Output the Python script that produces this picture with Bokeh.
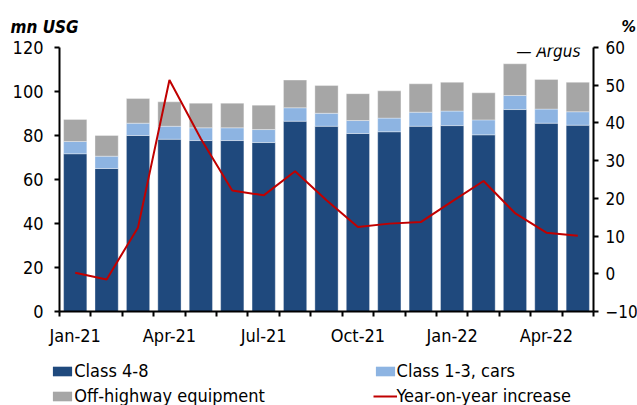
from bokeh.plotting import figure
from bokeh.models import (ColumnDataSource, Range1d, LinearAxis, FixedTicker,
                          Legend, LegendItem, Label)
from bokeh.embed import file_html
from bokeh.resources import INLINE

months = ["Jan-21", "Feb-21", "Mar-21", "Apr-21", "May-21", "Jun-21", "Jul-21",
          "Aug-21", "Sep-21", "Oct-21", "Nov-21", "Dec-21", "Jan-22", "Feb-22",
          "Mar-22", "Apr-22", "May-22"]
class48 = [71.7, 65.0, 80.0, 78.3, 77.7, 77.7, 76.8, 86.5, 84.2, 80.9, 81.7,
           84.2, 84.5, 80.3, 91.8, 85.6, 84.7]
class13 = [5.6, 5.6, 5.6, 5.9, 5.8, 5.8, 5.9, 6.1, 5.9, 5.9, 6.2, 6.4, 6.6,
           6.8, 6.4, 6.4, 6.1]
offhwy = [10.0, 9.4, 11.2, 11.1, 11.2, 11.2, 11.1, 12.6, 12.6, 12.2, 12.4,
          12.9, 13.1, 12.3, 14.4, 13.5, 13.4]
yoy = [0.3, -1.5, 12.3, 51.4, 35.8, 22.1, 20.8, 27.2, 19.5, 12.4, 13.3, 13.7,
       19.2, 24.6, 16.1, 10.9, 10.1]
label_idx = [0, 3, 6, 9, 12, 15]
left_ticks = [0, 20, 40, 60, 80, 100, 120]
right_ticks = [-10, 0, 10, 20, 30, 40, 50, 60]

FONT = "DejaVu Sans Condensed"
DARK = "#1F497D"
LIGHT = "#8DB4E2"
GRAY = "#A6A6A6"
RED = "#C00000"
W = 637

x = list(range(len(months)))
src = ColumnDataSource(dict(x=x, class48=class48, class13=class13,
                            offhwy=offhwy, yoy=yoy))

def bare_fig(h):
    f = figure(width=W, height=h, output_backend="svg", toolbar_location=None,
               title=None, x_range=Range1d(0, W), y_range=Range1d(0, h),
               min_border=0, min_border_left=0, min_border_right=0,
               min_border_top=0, min_border_bottom=0,
               x_axis_location=None, y_axis_location=None)
    f.outline_line_color = None
    f.xgrid.visible = False
    f.ygrid.visible = False
    return f

# ---- top strip: unit labels
top = bare_fig(36)
top.add_layout(Label(x=10, y=10, text="mn USG", text_font=FONT,
                     text_font_size="17px", text_font_style="bold italic",
                     text_color="black", text_baseline="alphabetic"))
top.add_layout(Label(x=621, y=10, text="%", text_font=FONT,
                     text_font_size="16px", text_font_style="bold italic",
                     text_color="black", text_baseline="alphabetic"))

# ---- main chart
p = figure(frame_width=534, frame_height=264, output_backend="svg",
           toolbar_location=None, title=None,
           x_range=Range1d(-0.5, len(months) - 0.5), y_range=Range1d(0, 120),
           min_border_left=59, min_border_right=44, min_border_top=11,
           min_border_bottom=38, x_axis_location=None, y_axis_location=None)
p.extra_y_ranges = {"pct": Range1d(-10, 60)}
p.outline_line_color = None
p.xgrid.visible = False
p.ygrid.visible = False

bars = p.vbar_stack(["class48", "class13", "offhwy"], x="x", width=0.74,
                    source=src, fill_color=[DARK, LIGHT, GRAY],
                    line_color="white", line_width=0.7, line_alpha=0.5)
ln = p.line("x", "yoy", source=src, y_range_name="pct", color=RED,
            line_width=2)

def style_axis(ax, size="18px"):
    ax.axis_line_color = "black"
    ax.axis_line_width = 2
    ax.major_tick_line_color = "black"
    ax.major_tick_line_width = 2
    ax.minor_tick_line_color = "black"
    ax.minor_tick_line_width = 2
    ax.major_label_text_font = FONT
    ax.major_label_text_font_size = size
    ax.major_label_text_color = "black"

xax = LinearAxis(ticker=FixedTicker(ticks=label_idx,
                                    minor_ticks=[i - 0.5 for i in range(len(months) + 1)]))
xax.major_label_overrides = {i: months[i] for i in label_idx}
style_axis(xax)
xax.major_tick_out = 0
xax.major_tick_in = 0
xax.minor_tick_out = 5
xax.minor_tick_in = 0
xax.major_label_standoff = 8
p.add_layout(xax, "below")

lax = LinearAxis(ticker=FixedTicker(ticks=left_ticks))
style_axis(lax)
lax.major_tick_out = 5
lax.major_tick_in = 0
lax.minor_tick_out = 0
lax.major_label_standoff = 11
p.add_layout(lax, "left")

rax = LinearAxis(y_range_name="pct", ticker=FixedTicker(ticks=right_ticks))
style_axis(rax, "17px")
rax.major_tick_out = 5
rax.major_tick_in = 0
rax.minor_tick_out = 0
rax.major_label_standoff = 7
p.add_layout(rax, "right")

p.add_layout(Label(x=521, y=261, x_units="screen", y_units="screen",
                   text="\u2014 Argus", text_font=FONT, text_font_size="17px",
                   text_font_style="italic", text_color="black",
                   text_align="right", text_baseline="alphabetic"))

# ---- legend strip (hidden renderers only feed the legend glyphs)
lg = bare_fig(56)
k1 = lg.vbar(x="x", top="class48", width=0.74, source=src, fill_color=DARK,
             line_color=None, visible=False)
k2 = lg.vbar(x="x", top="class13", width=0.74, source=src, fill_color=LIGHT,
             line_color=None, visible=False)
k3 = lg.vbar(x="x", top="offhwy", width=0.74, source=src, fill_color=GRAY,
             line_color=None, visible=False)
k4 = lg.line(x="x", y="yoy", source=src, color=RED, line_width=2,
             visible=False)

def make_legend(items, loc):
    return Legend(items=items, location=loc, orientation="vertical",
                  label_text_font=FONT, label_text_font_size="18px",
                  label_text_color="black", glyph_width=24, glyph_height=12,
                  label_standoff=0, label_height=20, spacing=4, padding=0,
                  margin=0, border_line_alpha=0, background_fill_alpha=0)

lg.add_layout(make_legend([LegendItem(label="Class 4-8", renderers=[k1]),
                           LegendItem(label="Off-highway equipment", renderers=[k3])],
                          (50.3, -1)))
lg.add_layout(make_legend([LegendItem(label="Class 1-3, cars", renderers=[k2]),
                           LegendItem(label="Year-on-year increase", renderers=[k4])],
                          (372.6, -1)))

open("out.html", "w").write(file_html([top, p, lg], INLINE))
